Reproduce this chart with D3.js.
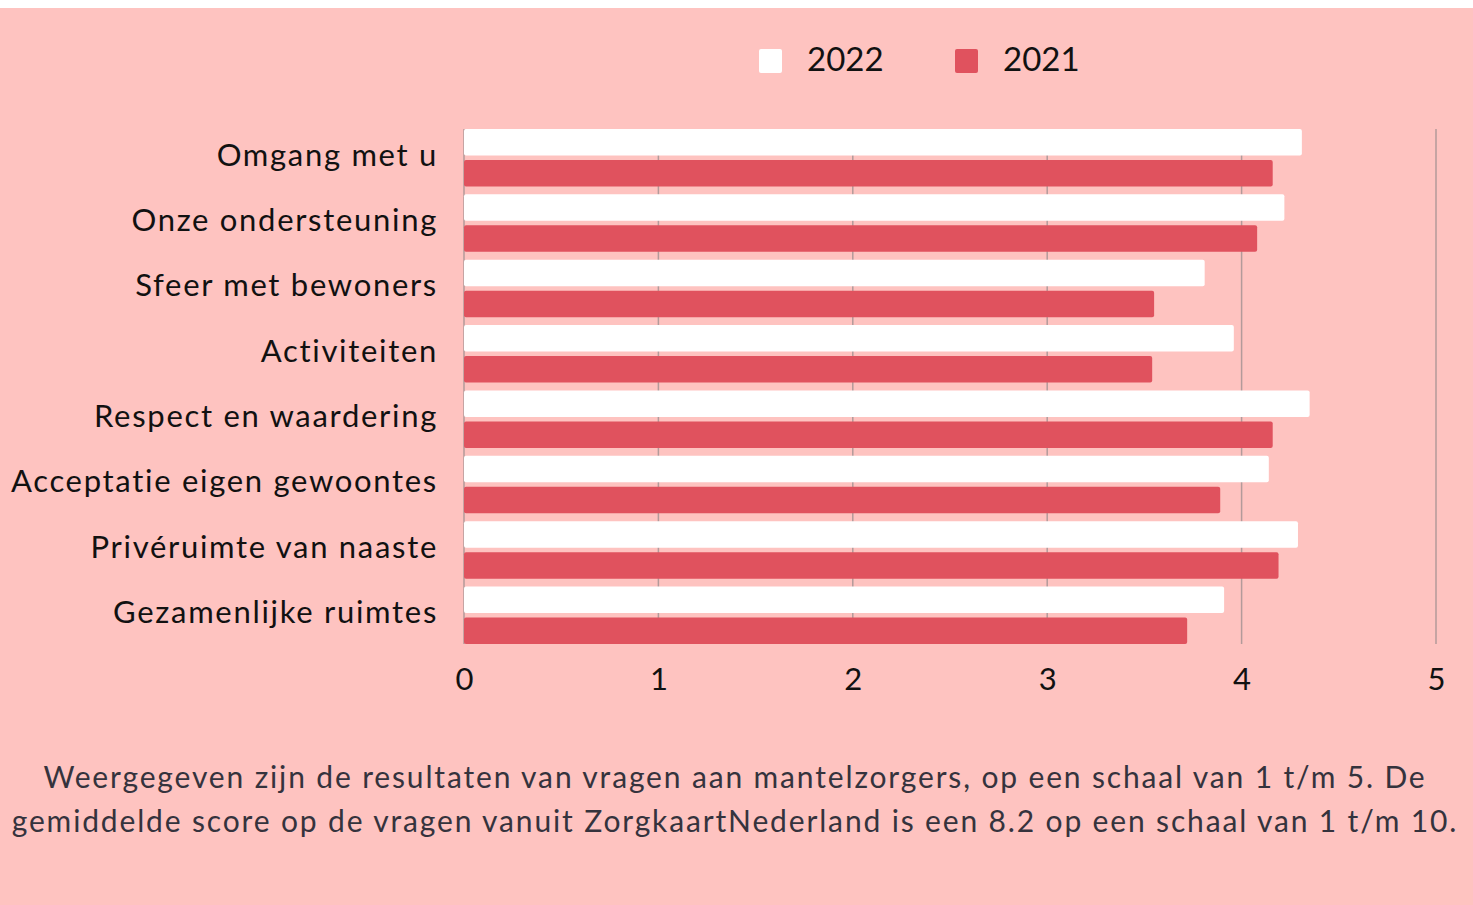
<!DOCTYPE html>
<html>
<head>
<meta charset="utf-8">
<script src="https://cdn.jsdelivr.net/npm/d3@7"></script>
<style>
html,body{margin:0;padding:0;background:#fff;}
svg{display:block;}
</style>
</head>
<body>
<svg id="chart" width="1473" height="905"></svg>
<script>
const categories = ["Omgang met u","Onze ondersteuning","Sfeer met bewoners","Activiteiten","Respect en waardering","Acceptatie eigen gewoontes","Privéruimte van naaste","Gezamenlijke ruimtes"];
const values2022 = [4.31, 4.22, 3.81, 3.96, 4.35, 4.14, 4.29, 3.91];
const values2021 = [4.16, 4.08, 3.55, 3.54, 4.16, 3.89, 4.19, 3.72];
const seriesNames = ["2022","2021"];
const tickValues = [0,1,2,3,4,5];
const captionLines = [
  "Weergegeven zijn de resultaten van vragen aan mantelzorgers, op een schaal van 1 t/m 5. De",
  "gemiddelde score op de vragen vanuit ZorgkaartNederland is een 8.2 op een schaal van 1 t/m 10."
];

const W = 1473, H = 905;
const colors = {"2022":"#ffffff","2021":"#e0525e"};
const bg = "#fec3c0";
const font = "Lato, 'Open Sans', sans-serif";
const svg = d3.select("#chart");

svg.append("rect").attr("x",0).attr("y",8).attr("width",W).attr("height",H-8).attr("fill",bg);

const margin = {left:464, right:37, top:129, bottom:261};
const x = d3.scaleLinear().domain([0,5]).range([margin.left, W-margin.right]);
const y = d3.scaleBand().domain(categories).range([margin.top, H-margin.bottom]).paddingInner(0.12).paddingOuter(0).align(0);
const ySub = d3.scaleBand().domain(seriesNames).range([0, y.bandwidth()]).paddingInner(0.145);

// gridlines
const gridBottom = y.range()[1];
svg.append("g").selectAll("line").data(tickValues).join("line")
  .attr("x1",d=>x(d)).attr("x2",d=>x(d))
  .attr("y1",margin.top).attr("y2",gridBottom)
  .attr("stroke","#b39a9a").attr("stroke-width",1.5);

// bars
const rows = categories.map((c,i)=>({cat:c, vals:[{s:"2022",v:values2022[i]},{s:"2021",v:values2021[i]}]}));
const g = svg.append("g").selectAll("g").data(rows).join("g")
  .attr("transform",d=>`translate(0,${y(d.cat)})`);
g.selectAll("rect").data(d=>d.vals).join("rect")
  .attr("x",x(0)).attr("y",d=>ySub(d.s))
  .attr("width",d=>x(d.v)-x(0)).attr("height",ySub.bandwidth())
  .attr("rx",2).attr("fill",d=>colors[d.s]);

// category labels
const yAxis = d3.axisLeft(y).tickSize(0).tickPadding(26);
const ya = svg.append("g").attr("transform",`translate(${x(0)},-2)`).call(yAxis);
ya.select(".domain").remove();
ya.selectAll("text").attr("font-family",font).attr("font-size",31).attr("fill","#111").attr("letter-spacing","1.7px");

// x axis
const xAxis = d3.axisBottom(x).tickValues(tickValues).tickSize(0).tickPadding(24).tickFormat(d3.format("d"));
const xa = svg.append("g").attr("transform",`translate(0,${gridBottom})`).call(xAxis);
xa.select(".domain").remove();
xa.selectAll("text").attr("font-family",font).attr("font-size",31).attr("fill","#111");

// legend
const legX = [759, 955];
const leg = svg.append("g").selectAll("g").data(seriesNames).join("g")
  .attr("transform",(d,i)=>`translate(${legX[i]},49)`);
leg.append("rect").attr("width",23).attr("height",24).attr("rx",2).attr("fill",d=>colors[d]);
leg.append("text").attr("x",48).attr("y",22).text(d=>d)
  .attr("font-family",font).attr("font-size",33).attr("fill","#111");

// caption
svg.append("g").selectAll("text").data(captionLines).join("text")
  .attr("x",735).attr("y",(d,i)=>788+i*44)
  .attr("text-anchor","middle").text(d=>d)
  .attr("font-family",font).attr("font-size",30).attr("fill","#35333d").attr("letter-spacing","1.85px");
</script>
</body>
</html>
